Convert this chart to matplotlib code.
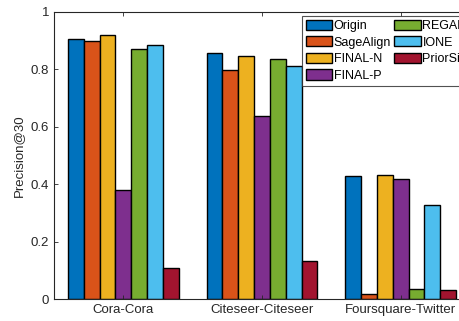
import matplotlib
matplotlib.use("Agg")
import matplotlib.pyplot as plt
import numpy as np

plt.rcParams['font.family'] = ['Liberation Sans', 'DejaVu Sans']

categories = ["Cora-Cora", "Citeseer-Citeseer", "Foursquare-Twitter"]
methods = ["Origin", "SageAlign", "FINAL-N", "FINAL-P", "REGAL", "IONE", "PriorSim"]
origin = [0.904, 0.855, 0.430]
sagealign = [0.898, 0.797, 0.017]
final_n = [0.918, 0.847, 0.432]
final_p = [0.379, 0.637, 0.417]
regal = [0.870, 0.836, 0.035]
ione = [0.883, 0.811, 0.329]
priorsim = [0.110, 0.133, 0.031]
series = [origin, sagealign, final_n, final_p, regal, ione, priorsim]
colors = ["#0072BD", "#D95319", "#EDB120", "#7E2F8E", "#77AC30", "#4DBEEE", "#A2142F"]

fig = plt.figure(figsize=(4.59, 3.21), dpi=100)
W, H = 459, 321
ax = fig.add_axes([54 / W, 1 - 299.3 / H, (470 - 54) / W, (299.3 - 11.7) / H])

x = np.arange(1, len(categories) + 1)
n = len(series)
bw = 0.8 / n
for i, (vals, c, m) in enumerate(zip(series, colors, methods)):
    ax.bar(x + (i - (n - 1) / 2) * bw, vals, width=bw, color=c, edgecolor='black',
           linewidth=1.0, label=m)

ax.set_xlim(0.5, 3.5)
ax.set_ylim(0, 1)
ax.set_xticks(x)
ax.set_xticklabels(categories)
ax.set_yticks([0, 0.2, 0.4, 0.6, 0.8, 1])
ax.set_yticklabels(["0", "0.2", "0.4", "0.6", "0.8", "1"])
ax.tick_params(direction='in', top=True, right=True, labelsize=9.5, colors='#262626',
               length=3, width=0.6)
for s in ax.spines.values():
    s.set_linewidth(0.8)
    s.set_color('#262626')
ax.set_ylabel("Precision@30", fontsize=9.5, color='#262626')

leg = ax.legend(ncol=2, loc='upper left',
                bbox_to_anchor=((301.7 - 54) / (470 - 54), (299.3 - 15.7) / (299.3 - 11.7)),
                fontsize=9, frameon=True, fancybox=False, edgecolor='#262626',
                handlelength=2.1, handleheight=0.88, handletextpad=0.15,
                columnspacing=0.25, labelspacing=0.33, borderpad=0.32, borderaxespad=0)
leg.get_frame().set_linewidth(0.8)

fig.savefig("out.png", dpi=100)
